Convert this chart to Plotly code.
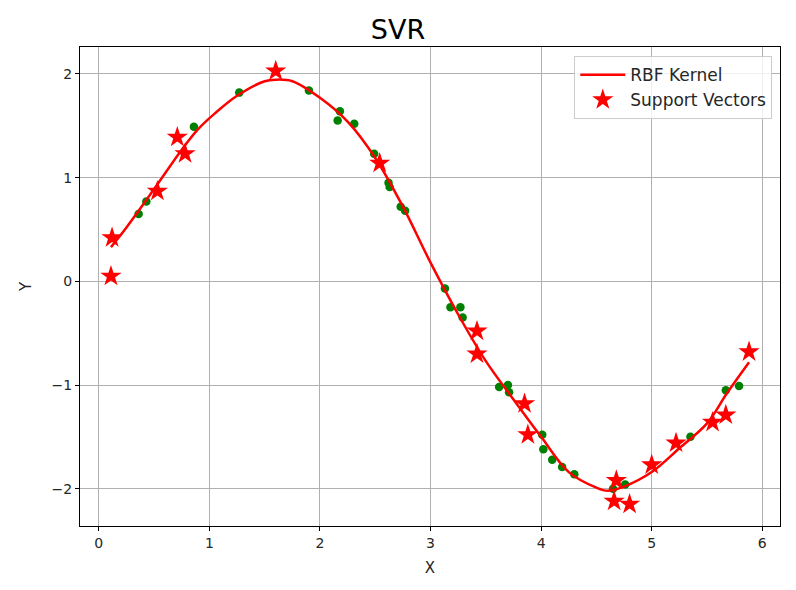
import plotly.graph_objects as go

# Data points (non-support vectors), green
data_x = [0.36, 0.43, 0.86, 1.27, 1.90, 2.16, 2.18, 2.31, 2.49, 2.62, 2.63, 2.73, 2.77,
          3.13, 3.18, 3.27, 3.29, 3.62, 3.70, 3.71, 4.01, 4.02, 4.10, 4.19, 4.30,
          4.65, 4.76, 5.35, 5.67, 5.79]
data_y = [0.65, 0.77, 1.49, 1.82, 1.84, 1.55, 1.64, 1.52, 1.23, 0.95, 0.91, 0.72, 0.68,
          -0.07, -0.25, -0.25, -0.35, -1.02, -1.00, -1.07, -1.48, -1.62, -1.72, -1.79, -1.86,
          -2.00, -1.96, -1.50, -1.05, -1.01]

# Support vectors, red stars
sv_x = [0.11, 0.12, 0.53, 0.71, 0.78, 1.60, 2.54, 3.42, 3.42, 3.85, 3.88,
        4.66, 4.68, 4.80, 5.00, 5.22, 5.55, 5.67, 5.88]
sv_y = [0.05, 0.42, 0.87, 1.39, 1.23, 2.03, 1.14, -0.48, -0.70, -1.18, -1.48,
        -2.12, -1.92, -2.15, -1.77, -1.56, -1.36, -1.29, -0.68]

# RBF kernel prediction curve
curve_x = [0.11, 0.25, 0.5, 0.75, 0.9, 1.05, 1.25, 1.5, 1.6, 1.75, 2.0, 2.25, 2.5, 2.75,
           3.0, 3.25, 3.5, 3.75, 4.0, 4.25, 4.5, 4.6, 4.75, 5.0, 5.25, 5.5, 5.68, 5.88]
curve_y = [0.33, 0.52, 0.89, 1.27, 1.47, 1.62, 1.79, 1.93, 1.945, 1.93, 1.77, 1.54, 1.19, 0.72,
           0.18, -0.32, -0.77, -1.14, -1.50, -1.84, -1.99, -2.02, -1.98, -1.84, -1.61, -1.37, -1.08, -0.78]

tick_x = [0, 1, 2, 3, 4, 5, 6]
tick_y = [-2, -1, 0, 1, 2]

FONT = "DejaVu Sans"

fig = go.Figure()
fig.add_trace(go.Scatter(x=data_x, y=data_y, mode="markers",
                         marker=dict(color="green", size=8.5), showlegend=False))
fig.add_trace(go.Scatter(x=curve_x, y=curve_y, mode="lines", name="RBF Kernel",
                         line=dict(color="red", width=2.5, shape="spline", smoothing=1)))
fig.add_trace(go.Scatter(x=sv_x, y=sv_y, mode="markers", name="Support Vectors",
                         marker=dict(color="red", symbol="star", size=16, line=dict(width=0))))

fig.update_layout(
    width=780, height=574,
    margin=dict(l=72, r=8, t=39, b=56),
    paper_bgcolor="white", plot_bgcolor="white",
    font=dict(family=FONT, size=14, color="#262626"),
    title=dict(text="SVR", x=0.5, xanchor="center", y=0.962, yanchor="middle",
               font=dict(family=FONT, size=27, color="black")),
    legend=dict(x=0.989, y=0.981, xanchor="right", yanchor="top", itemwidth=45,
                bgcolor="rgba(255,255,255,0.8)", bordercolor="#cccccc", borderwidth=1,
                font=dict(family=FONT, size=17, color="#262626")),
    showlegend=True,
)
fig.update_xaxes(range=[-0.17, 6.16], tickvals=tick_x, showgrid=True, gridcolor="#b0b0b0",
                 gridwidth=1, zeroline=False, showline=True, linecolor="black", linewidth=1,
                 mirror=True, ticks="outside", ticklen=4, tickcolor="black", automargin=False,
                 title=dict(text="X", font=dict(family=FONT, size=15), standoff=12))
fig.update_yaxes(range=[-2.36, 2.26], tickvals=tick_y, showgrid=True, gridcolor="#b0b0b0",
                 gridwidth=1, zeroline=False, showline=True, linecolor="black", linewidth=1,
                 mirror=True, ticks="outside", ticklen=4, tickcolor="black", automargin=False,
                 title=dict(text="Y", font=dict(family=FONT, size=15), standoff=16))

fig.write_html("out.html")
